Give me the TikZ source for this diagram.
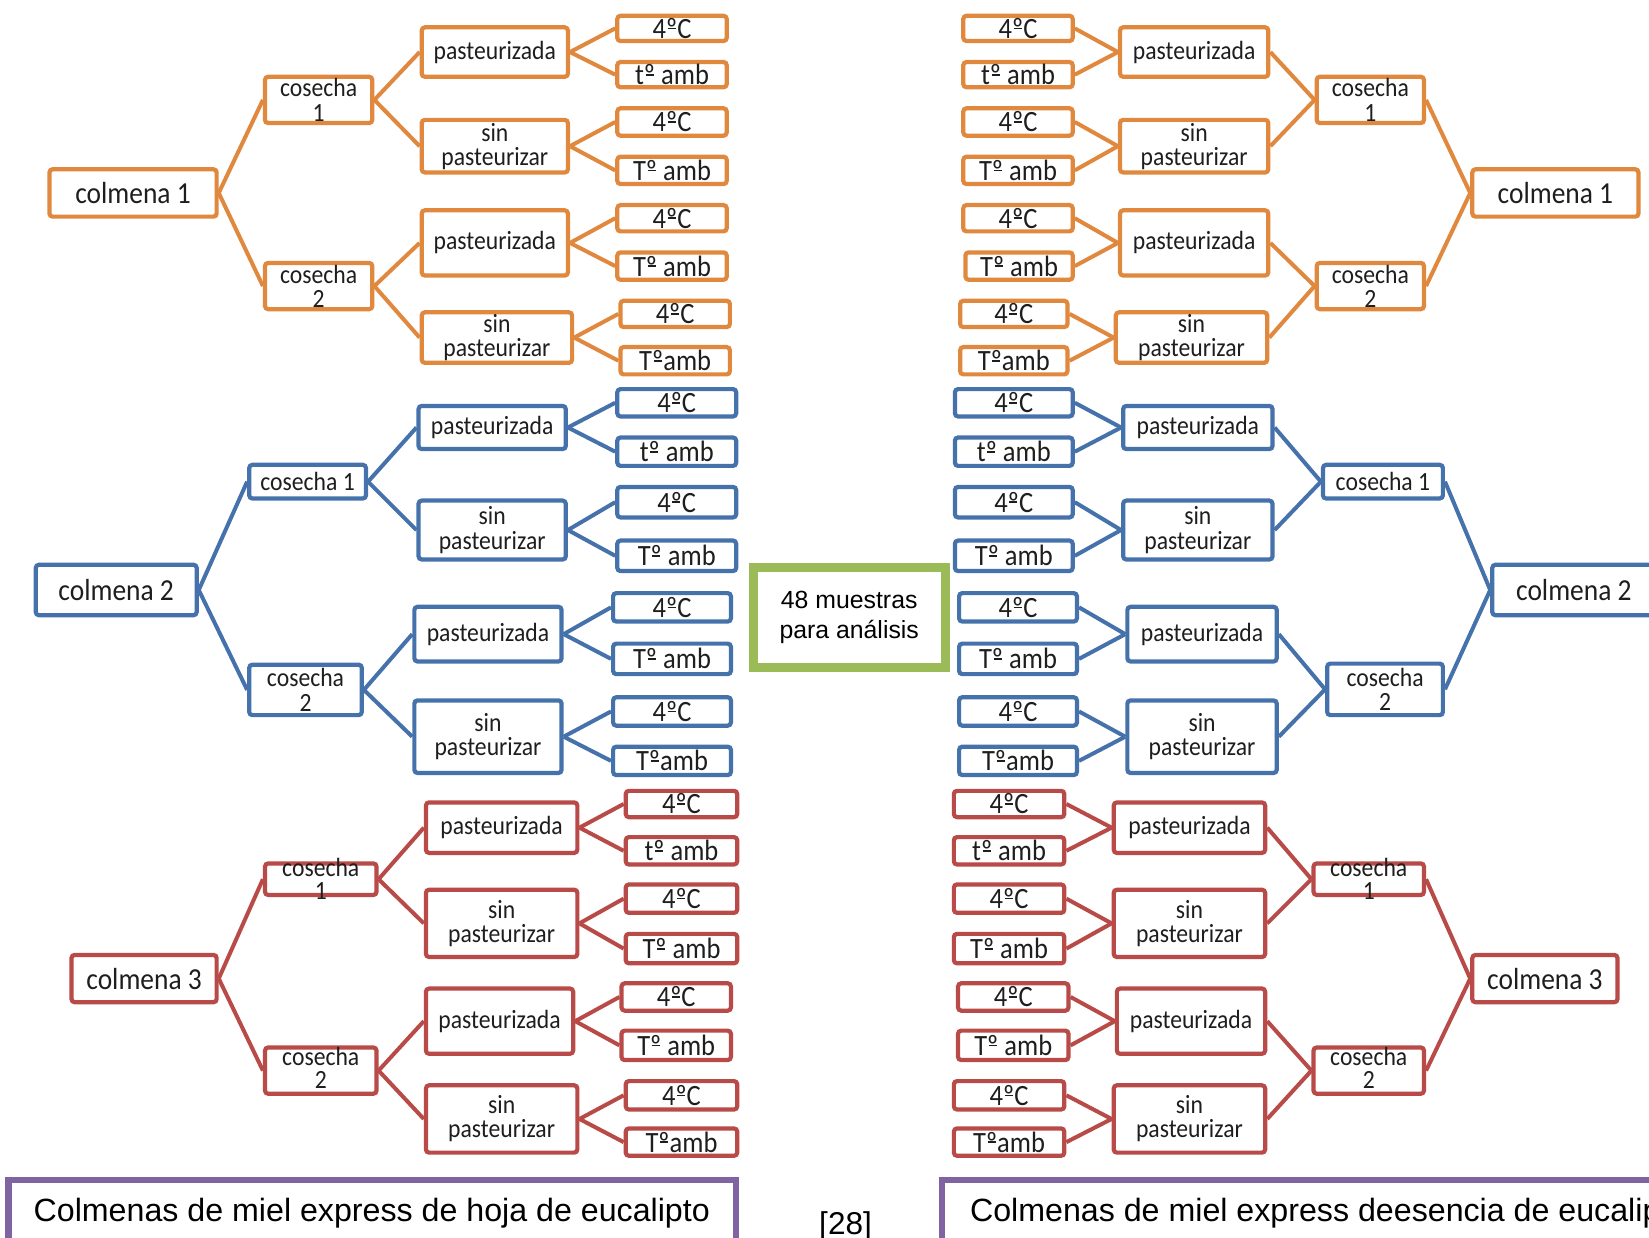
\documentclass[tikz,border=0pt]{standalone}
\usepackage{fontspec}
\setmainfont[FakeStretch=0.9]{Carlito}
\newfontfamily\arialf{Liberation Sans}
\definecolor{ora}{HTML}{E0883E}
\definecolor{blu}{HTML}{4672AC}
\definecolor{rdd}{HTML}{B84B48}
\definecolor{grn}{HTML}{9BBB59}
\definecolor{pur}{HTML}{8064A2}
\definecolor{txt}{HTML}{1E1E1E}
\newcommand\om{\ooalign{º\cr\hidewidth\rule[0.31em]{0.27em}{0.055em}\hidewidth\cr}}
\tikzset{
 box/.style={draw, rounded corners=1.5pt, line width=2pt, fill=white, inner sep=0pt, text=txt},
 colm/.style={box, font=\fontsize{14.5}{15}\selectfont},
 mid/.style={box, align=center, font=\fontsize{12.5}{11.5}\selectfont},
 leaf/.style={box, font=\fontsize{14}{14}\selectfont},
 O/.style={draw=ora}, B/.style={draw=blu}, R/.style={draw=rdd},
 lnk/.style={line width=1.9pt},
 midtext/.style={align=center, inner sep=0pt, text=txt, font=\fontsize{12.5}{11}\selectfont},
 captext/.style={inner sep=0pt, text=black, font=\arialf\fontsize{15.3}{18}\selectfont}
}
\newcommand\mybox[7]{\node[#6,minimum width={(#4-#2-4)*0.5pt},minimum height={(#5-#3-4)*0.5pt}] (#1) at ({(#2+#4)/2},{(#3+#5)/2}) {#7};}
\newcommand\conL[2]{\foreach \p/\c in {c/k1,c/k2,k1/p1,k1/s1,k2/p2,k2/s2,p1/a1,p1/a2,s1/a3,s1/a4,p2/a5,p2/a6,s2/a7,s2/a8} {\draw[lnk,#2] (#1\p.east) -- (#1\c.west);}}
\newcommand\conR[2]{\foreach \p/\c in {c/k1,c/k2,k1/p1,k1/s1,k2/p2,k2/s2,p1/a1,p1/a2,s1/a3,s1/a4,p2/a5,p2/a6,s2/a7,s2/a8} {\draw[lnk,#2] (#1\p.west) -- (#1\c.east);}}
\begin{document}
\begin{tikzpicture}[x=0.5pt,y=-0.5pt]
\useasboundingbox (0,0) rectangle (1568,1177);
\clip (0,0) rectangle (1568,1177);

% ===== left orange =====
\mybox{LOc}{45}{159}{208}{208}{colm,O}{colmena 1}
\mybox{LOk1}{250}{71}{356}{119}{mid,O}{cosecha\\1}
\mybox{LOk2}{250}{248}{356}{296}{mid,O}{cosecha\\2}
\mybox{LOp1}{399}{24}{542}{75}{mid,O}{pasteurizada}
\mybox{LOs1}{399}{112}{542}{166}{mid,O}{sin\\pasteurizar}
\mybox{LOp2}{399}{198}{542}{264}{mid,O}{pasteurizada}
\mybox{LOs2}{399}{295}{546}{347}{mid,O}{sin\\pasteurizar}
\mybox{LOa1}{585}{13}{693}{41}{leaf,O}{4\om C}
\mybox{LOa2}{585}{57}{693}{85}{leaf,O}{t\om{} amb}
\mybox{LOa3}{585}{101}{693}{131}{leaf,O}{4\om C}
\mybox{LOa4}{585}{147}{693}{177}{leaf,O}{T\om{} amb}
\mybox{LOa5}{585}{193}{693}{222}{leaf,O}{4\om C}
\mybox{LOa6}{585}{238}{693}{268}{leaf,O}{T\om{} amb}
\mybox{LOa7}{588}{284}{696}{313}{leaf,O}{4\om C}
\mybox{LOa8}{588}{328}{696}{358}{leaf,O}{T\om amb}
\conL{LO}{ora}

% ===== left blue =====
\mybox{LBc}{32}{535}{189}{587}{colm,B}{colmena 2}
\mybox{LBk1}{235}{440}{350}{476}{mid,B}{cosecha 1}
\mybox{LBk2}{235}{630}{346}{682}{mid,B}{cosecha\\2}
\mybox{LBp1}{396}{384}{540}{429}{mid,B}{pasteurizada}
\mybox{LBs1}{396}{474}{540}{534}{mid,B}{sin\\pasteurizar}
\mybox{LBp2}{392}{575}{536}{631}{mid,B}{pasteurizada}
\mybox{LBs2}{392}{664}{536}{737}{mid,B}{sin\\pasteurizar}
\mybox{LBa1}{585}{368}{702}{398}{leaf,B}{4\om C}
\mybox{LBa2}{585}{414}{702}{445}{leaf,B}{t\om{} amb}
\mybox{LBa3}{585}{461}{702}{494}{leaf,B}{4\om C}
\mybox{LBa4}{585}{512}{702}{545}{leaf,B}{T\om{} amb}
\mybox{LBa5}{581}{562}{697}{593}{leaf,B}{4\om C}
\mybox{LBa6}{581}{610}{697}{643}{leaf,B}{T\om{} amb}
\mybox{LBa7}{581}{661}{697}{692}{leaf,B}{4\om C}
\mybox{LBa8}{581}{708}{697}{739}{leaf,B}{T\om amb}
\conL{LB}{blu}

% ===== left red =====
\mybox{LRc}{66}{906}{208}{955}{colm,R}{colmena 3}
\mybox{LRk1}{250}{819}{360}{853}{box,R}{}
\node[midtext] (LRk1t) at (LRk1) {cosecha\\1};
\mybox{LRk2}{250}{994}{360}{1042}{box,R}{}
\node[midtext] (LRk2t) at ([yshift=1.5pt]LRk2.center) {cosecha\\2};
\mybox{LRp1}{403}{761}{551}{813}{mid,R}{pasteurizada}
\mybox{LRs1}{403}{844}{551}{912}{mid,R}{sin\\pasteurizar}
\mybox{LRp2}{403}{938}{547}{1004}{mid,R}{pasteurizada}
\mybox{LRs2}{403}{1030}{551}{1098}{mid,R}{sin\\pasteurizar}
\mybox{LRa1}{593}{750}{703}{779}{leaf,R}{4\om C}
\mybox{LRa2}{593}{794}{703}{824}{leaf,R}{t\om{} amb}
\mybox{LRa3}{593}{839}{703}{870}{leaf,R}{4\om C}
\mybox{LRa4}{593}{886}{703}{918}{leaf,R}{T\om{} amb}
\mybox{LRa5}{589}{933}{697}{963}{leaf,R}{4\om C}
\mybox{LRa6}{589}{978}{697}{1010}{leaf,R}{T\om{} amb}
\mybox{LRa7}{593}{1026}{703}{1057}{leaf,R}{4\om C}
\mybox{LRa8}{593}{1071}{703}{1101}{leaf,R}{T\om amb}
\conL{LR}{rdd}

% ===== right orange =====
\mybox{ROc}{1398}{159}{1560}{208}{colm,O}{colmena 1}
\mybox{ROk1}{1250}{71}{1356}{119}{mid,O}{cosecha\\1}
\mybox{ROk2}{1250}{248}{1356}{296}{mid,O}{cosecha\\2}
\mybox{ROp1}{1063}{24}{1208}{75}{mid,O}{pasteurizada}
\mybox{ROs1}{1063}{112}{1208}{166}{mid,O}{sin\\pasteurizar}
\mybox{ROp2}{1063}{198}{1208}{264}{mid,O}{pasteurizada}
\mybox{ROs2}{1059}{295}{1207}{347}{mid,O}{sin\\pasteurizar}
\mybox{ROa1}{914}{13}{1022}{41}{leaf,O}{4\om C}
\mybox{ROa2}{914}{57}{1022}{85}{leaf,O}{t\om{} amb}
\mybox{ROa3}{914}{101}{1022}{131}{leaf,O}{4\om C}
\mybox{ROa4}{914}{147}{1022}{177}{leaf,O}{T\om{} amb}
\mybox{ROa5}{914}{193}{1022}{222}{leaf,O}{4\om C}
\mybox{ROa6}{916}{238}{1022}{268}{leaf,O}{T\om{} amb}
\mybox{ROa7}{911}{284}{1017}{313}{leaf,O}{4\om C}
\mybox{ROa8}{911}{328}{1017}{358}{leaf,O}{T\om amb}
\conR{RO}{ora}

% ===== right blue =====
\mybox{RBc}{1417}{535}{1585}{587}{colm,B}{\hspace*{-4.5pt}colmena 2}
\mybox{RBk1}{1256}{440}{1374}{476}{mid,B}{cosecha 1}
\mybox{RBk2}{1260}{629}{1374}{682}{mid,B}{cosecha\\2}
\mybox{RBp1}{1066}{384}{1212}{429}{mid,B}{pasteurizada}
\mybox{RBs1}{1066}{474}{1212}{534}{mid,B}{sin\\pasteurizar}
\mybox{RBp2}{1070}{575}{1216}{631}{mid,B}{pasteurizada}
\mybox{RBs2}{1070}{664}{1216}{737}{mid,B}{sin\\pasteurizar}
\mybox{RBa1}{906}{368}{1022}{398}{leaf,B}{4\om C}
\mybox{RBa2}{906}{414}{1022}{445}{leaf,B}{t\om{} amb}
\mybox{RBa3}{906}{461}{1022}{494}{leaf,B}{4\om C}
\mybox{RBa4}{906}{512}{1022}{545}{leaf,B}{T\om{} amb}
\mybox{RBa5}{910}{562}{1026}{593}{leaf,B}{4\om C}
\mybox{RBa6}{910}{610}{1026}{643}{leaf,B}{T\om{} amb}
\mybox{RBa7}{910}{661}{1026}{692}{leaf,B}{4\om C}
\mybox{RBa8}{910}{708}{1026}{739}{leaf,B}{T\om amb}
\conR{RB}{blu}

% ===== right red =====
\mybox{RRc}{1398}{906}{1540}{955}{colm,R}{colmena 3}
\mybox{RRk1}{1247}{819}{1356}{853}{box,R}{}
\node[midtext] (RRk1t) at (RRk1) {cosecha\\1};
\mybox{RRk2}{1247}{994}{1356}{1042}{box,R}{}
\node[midtext] (RRk2t) at ([yshift=1.5pt]RRk2.center) {cosecha\\2};
\mybox{RRp1}{1057}{761}{1205}{813}{mid,R}{pasteurizada}
\mybox{RRs1}{1057}{844}{1205}{912}{mid,R}{sin\\pasteurizar}
\mybox{RRp2}{1060}{938}{1205}{1004}{mid,R}{pasteurizada}
\mybox{RRs2}{1057}{1030}{1205}{1098}{mid,R}{sin\\pasteurizar}
\mybox{RRa1}{905}{750}{1014}{779}{leaf,R}{4\om C}
\mybox{RRa2}{905}{794}{1014}{824}{leaf,R}{t\om{} amb}
\mybox{RRa3}{905}{839}{1014}{870}{leaf,R}{4\om C}
\mybox{RRa4}{905}{886}{1014}{918}{leaf,R}{T\om{} amb}
\mybox{RRa5}{909}{933}{1018}{963}{leaf,R}{4\om C}
\mybox{RRa6}{909}{978}{1018}{1010}{leaf,R}{T\om{} amb}
\mybox{RRa7}{905}{1026}{1014}{1057}{leaf,R}{4\om C}
\mybox{RRa8}{905}{1071}{1014}{1101}{leaf,R}{T\om amb}
\conR{RR}{rdd}

% ===== centre green box =====
\node[draw=grn, line width=3.8pt, fill=white, minimum width=91.7pt, minimum height=47.75pt,
      inner sep=0pt, align=center, text=black, font=\arialf\fontsize{11.8}{14}\selectfont]
      (gb) at (807.5,587.1) {48 muestras\\para análisis};
\draw[grn, line width=1pt] ([shift={(3.7pt,-3.7pt)}]gb.north west) rectangle ([shift={(-3.7pt,3.7pt)}]gb.south east);

% ===== bottom captions =====
\node[draw=pur, line width=3pt, fill=white, minimum width=346pt, minimum height=44pt, inner sep=0pt] (lcap) at (354,1166) {};
\node[captext, anchor=base] (lcapt) at (353.5,1161.6) {Colmenas de miel express de hoja de eucalipto};
\node[draw=pur, line width=3pt, fill=white, minimum width=362pt, minimum height=44pt, inner sep=0pt] (rcap) at (1258,1166) {};
\node[captext, anchor=base west] (rcapt) at (922,1161.6) {Colmenas de miel express deesencia de eucalipto};
\node[captext, anchor=base, font=\arialf\fontsize{15}{18}\selectfont] (ref) at (804,1174) {[28]};
\end{tikzpicture}
\end{document}
